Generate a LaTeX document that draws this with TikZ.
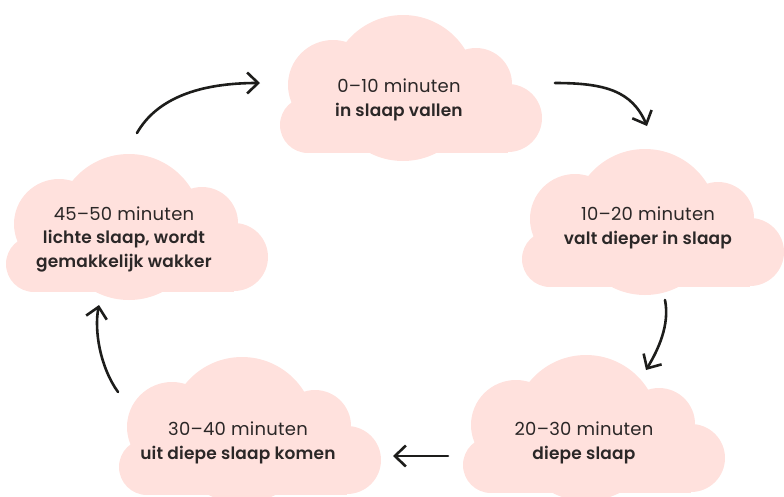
\documentclass[tikz,border=0pt]{standalone}
\usepackage{fontspec}
\setmainfont{Poppins}[BoldFont={Poppins SemiBold}]
\usetikzlibrary{arrows.meta}
\definecolor{wolkroze}{HTML}{FFE1DD}
\definecolor{tekstgrijs}{HTML}{2B2727}
\definecolor{pijlzwart}{HTML}{1D1D1B}
\newcommand\minuten[1]{{\fontsize{18}{23.5}\selectfont\addfontfeature{LetterSpace=1.5}#1}}
\tikzset{wolk/.pic={
	\fill[wolkroze] (-103,-35) rectangle (97,0);
	\fill[wolkroze] (-103,-28) circle[radius=28pt];
	\fill[wolkroze] (-78,-68) circle[radius=45pt];
	\fill[wolkroze] (-8,-65) circle[radius=73pt];
	\fill[wolkroze] (65,-69) circle[radius=36pt];
	\fill[wolkroze] (97,-35) circle[radius=34pt];
}}
\begin{document}
\begin{tikzpicture}[x=1pt,y=-1pt]
							\tikzstyle{fase}=[align=center,text=tekstgrijs,inner sep=0pt,anchor=base,font=\fontsize{17}{23.5}\selectfont\addfontfeature{LetterSpace=1}]
							\tikzstyle{pijl}=[draw=pijlzwart,line width=2.6pt,line cap=round,-{Straight Barb[length=11pt,width=21pt]}]
							\useasboundingbox (0,0) rectangle (784,496);
							\pic at (411,153) {wolk};
							\pic at (653,287) {wolk};
							\pic at (594,493) {wolk};
							\pic at (250,495) {wolk};
							\pic at (137,292) {wolk};
							\node[fase] (t1) at (399,116) {\minuten{0--10 minuten}\\\textbf{in slaap vallen}};
							\node[fase] (t2) at (648,244) {\minuten{10--20 minuten}\\\textbf{valt dieper in slaap}};
							\node[fase] (t3) at (584,459) {\minuten{20--30 minuten}\\\textbf{diepe slaap}};
							\node[fase] (t4) at (238,459) {\minuten{30--40 minuten}\\\textbf{uit diepe slaap komen}};
							\node[fase] (t5) at (124,267) {\minuten{45--50 minuten}\\\textbf{lichte slaap, wordt}\\\textbf{gemakkelijk wakker}};
							\coordinate (a1) at (137,133);
							\coordinate (b1) at (260,83);
							\coordinate (a2) at (555,83);
							\coordinate (b2) at (647,126);
							\coordinate (a3) at (665,300);
							\coordinate (b3) at (646,370);
							\coordinate (a4) at (448,456);
							\coordinate (b4) at (393,456);
							\coordinate (a5) at (118,392);
							\coordinate (b5) at (99,305);
							\draw[pijl] (a1) .. controls +(20,-35) and +(-60,0) .. (b1);
							\draw[pijl] (a2) .. controls +(50,0) and +(-15,-35) .. (b2);
							\draw[pijl] (a3) .. controls +(5,25) and +(12,-20) .. (b3);
							\draw[pijl] (a4) -- (b4);
							\draw[pijl] (a5) .. controls +(-18,-25) and +(-5,25) .. (b5);
							\end{tikzpicture}
\end{document}
